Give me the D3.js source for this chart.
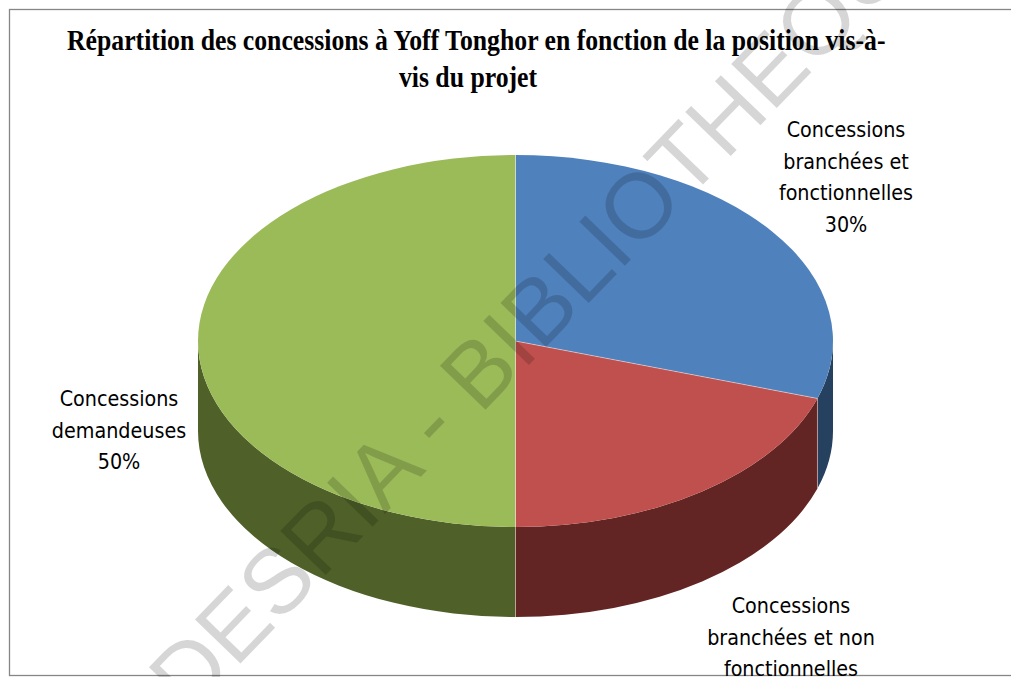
<!DOCTYPE html>
<html>
<head>
<meta charset="utf-8">
<title>Répartition des concessions</title>
<script src="https://d3js.org/d3.v7.min.js"></script>
<style>
  body { margin: 0; background: #fff; }
</style>
</head>
<body>
<svg width="1011" height="677"></svg>
<script>
// data
var categories = ["Concessions branchées et fonctionnelles",
                  "Concessions branchées et non fonctionnelles",
                  "Concessions demandeuses"];
var values = [30, 20, 50];
var labelLines = [["Concessions", "branchées et", "fonctionnelles", "30%"],
                  ["Concessions", "branchées et non", "fonctionnelles", "20%"],
                  ["Concessions", "demandeuses", "50%"]];
var titleLines = ["Répartition des concessions à Yoff Tonghor en fonction de la position vis-à-",
                  "vis du projet"];

// layout
var svg = d3.select("svg"),
    cx = 515.5, cy = 341, rx = 317.5, ry = 186, depth = 90;
var topColors = ["#4F81BD", "#C0504D", "#9BBB59"],
    sideColors = ["#26405F", "#632523", "#4F6129"];
var labelAt = [[846, 137], [791, 613], [119, 406]];

// chart frame
svg.append("rect")
    .attr("x", 9.5).attr("y", 9.5)
    .attr("width", 1100).attr("height", 666)
    .attr("fill", "#fff")
    .attr("stroke", "#868686")
    .attr("stroke-width", 1.3);

var pie = d3.pie().sort(null).value(d => d);
var arcs = pie(values);

function pt(a, dy) {
    return [cx + rx * Math.sin(a), cy - ry * Math.cos(a) + (dy || 0)];
}

// side walls (front half only: angles between pi/2 and 3pi/2)
var sides = svg.append("g");
arcs.forEach(function(d, i) {
    var a0 = Math.max(d.startAngle, Math.PI / 2),
        a1 = Math.min(d.endAngle, 3 * Math.PI / 2);
    if (a1 <= a0) return;
    var p0 = pt(a0), p1 = pt(a1), q1 = pt(a1, depth), q0 = pt(a0, depth);
    var large = (a1 - a0) > Math.PI ? 1 : 0;
    var path = "M" + p0 + "A" + rx + "," + ry + " 0 " + large + " 1 " + p1 +
               "L" + q1 + "A" + rx + "," + ry + " 0 " + large + " 0 " + q0 + "Z";
    sides.append("path").attr("d", path).attr("fill", sideColors[i]);
});
// light edges where slices meet on the wall
arcs.forEach(function(d) {
    var a = d.startAngle;
    if (a > Math.PI / 2 && a < 3 * Math.PI / 2) {
        var p = pt(a), q = pt(a, depth);
        sides.append("line")
            .attr("x1", p[0]).attr("y1", p[1]).attr("x2", q[0]).attr("y2", q[1])
            .attr("stroke", "rgba(255,220,220,0.45)").attr("stroke-width", 1);
    }
});

// top faces
var tops = svg.append("g");
arcs.forEach(function(d, i) {
    var p0 = pt(d.startAngle), p1 = pt(d.endAngle);
    var large = (d.endAngle - d.startAngle) > Math.PI ? 1 : 0;
    tops.append("path")
        .attr("d", "M" + cx + "," + cy + "L" + p0 + "A" + rx + "," + ry + " 0 " + large + " 1 " + p1 + "Z")
        .attr("fill", topColors[i]);
});
arcs.forEach(function(d) {
    var p = pt(d.startAngle);
    tops.append("line")
        .attr("x1", cx).attr("y1", cy).attr("x2", p[0]).attr("y2", p[1])
        .attr("stroke", "rgba(255,255,255,0.45)").attr("stroke-width", 1);
});

// title
var title = svg.append("g").attr("font-family", "'Liberation Serif', 'Times New Roman', serif")
    .attr("font-weight", "bold").attr("font-size", 30).attr("fill", "#000");
var t1 = title.append("text").text(titleLines[0]);
var w1 = t1.node().getComputedTextLength();
var sx = 819 / w1;
t1.attr("transform", "translate(67,49.5) scale(" + sx + ",1)");
var t2 = title.append("text").text(titleLines[1]).attr("text-anchor", "middle");
t2.attr("transform", "translate(468,87) scale(" + sx + ",1)");

// data labels
var labels = svg.append("g")
    .attr("font-family", "'Liberation Sans Narrow', 'DejaVu Sans Condensed', sans-serif")
    .attr("font-size", 21.3).attr("fill", "#000").attr("text-anchor", "middle");
labelLines.forEach(function(lines, i) {
    var t = labels.append("text")
        .attr("x", labelAt[i][0]).attr("y", labelAt[i][1]);
    lines.forEach(function(s, j) {
        t.append("tspan").attr("x", labelAt[i][0]).attr("dy", j ? 31.5 : 0).text(s);
    });
});

// watermark
svg.append("text")
    .text("CODESRIA - BIBLIOTHEQUE")
    .attr("transform", "translate(523,371) rotate(-46)")
    .attr("text-anchor", "middle")
    .attr("font-family", "'Liberation Sans', Arial, sans-serif")
    .attr("font-size", 92)
    .attr("fill", "rgba(0,0,0,0.16)");
</script>
</body>
</html>
